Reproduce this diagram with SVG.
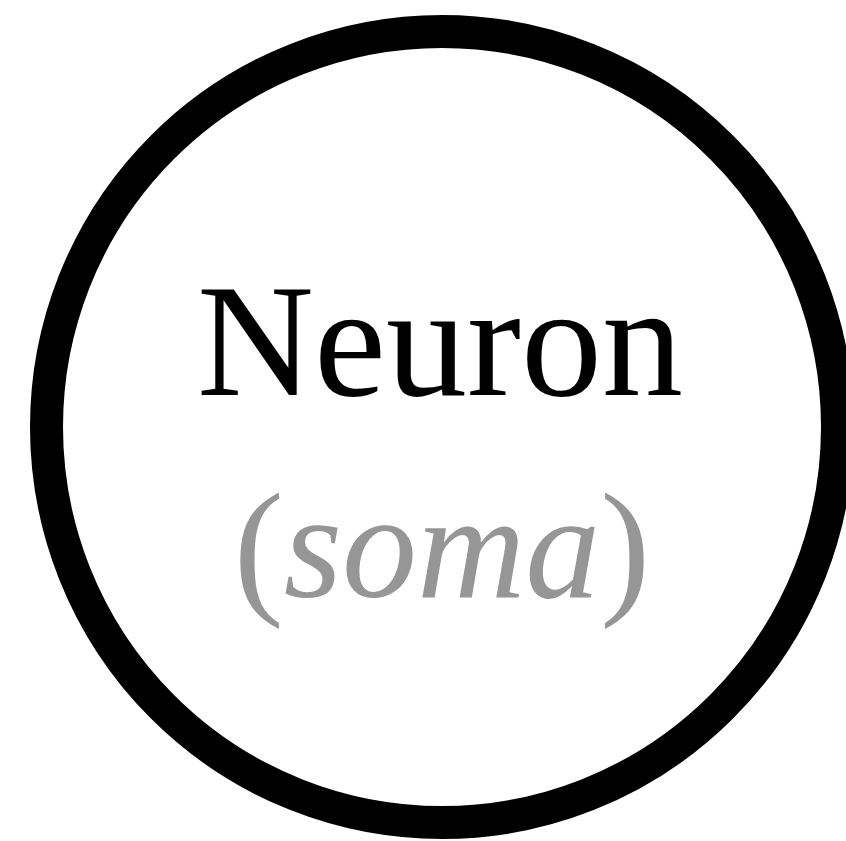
<svg xmlns="http://www.w3.org/2000/svg" width="846" height="841" viewBox="0 0 846 841">
<style>
.t{font-family:"Liberation Serif","Times New Roman",serif;text-anchor:middle}
</style>
<rect width="846" height="841" fill="#fff"/>
<g id="neuron">
<circle cx="442" cy="427" r="395.5" fill="#fff" stroke="#000" stroke-width="33"/>
<text class="t" x="440" y="395" font-size="162" fill="#000">Neuron</text>
<text class="t" x="442" y="597" font-size="150" fill="#969696">(<tspan font-style="italic">soma</tspan>)</text>
</g>
<g id="connectors"/>
</svg>
